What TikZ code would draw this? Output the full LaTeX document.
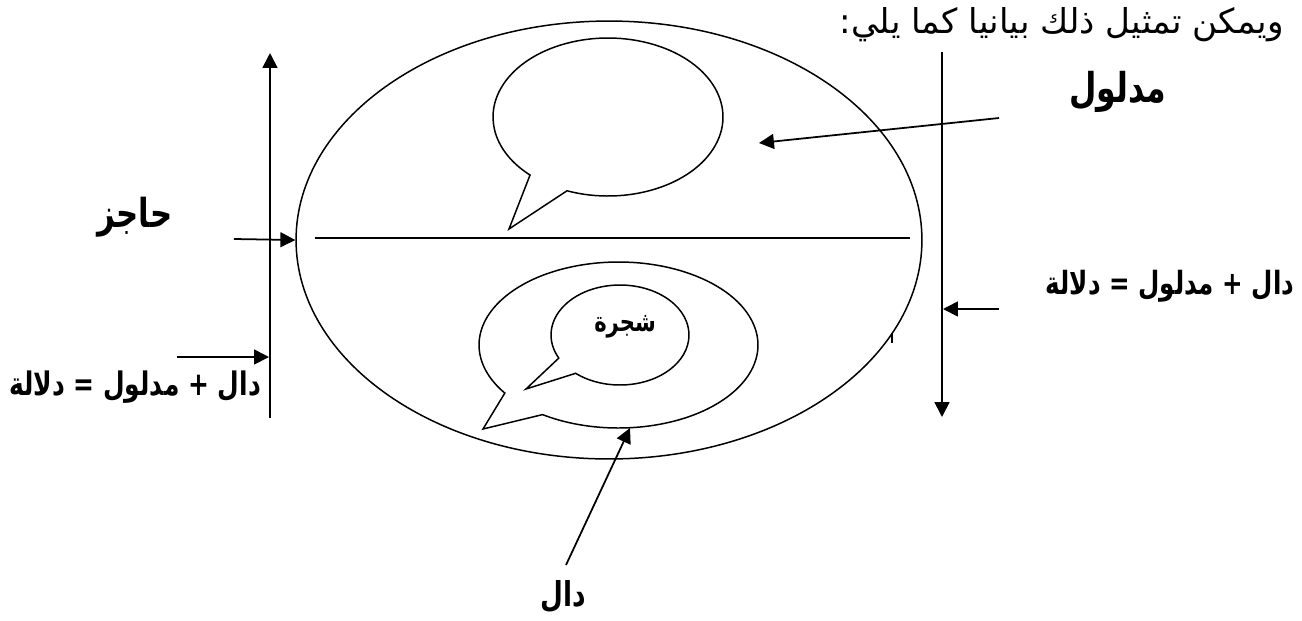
\documentclass[tikz,border=0pt]{standalone}
\usepackage{fontspec}
\usetikzlibrary{arrows.meta,shapes.geometric,calc}
\newfontfamily\arabicfont[Script=Arabic]{DejaVu Sans}
\TeXXeTstate=1
\newcommand{\tallar}[1]{\scalebox{1}[1.3]{\beginR #1\endR}}
\begin{document}
\begin{tikzpicture}[x=0.02cm,y=0.02cm,
  shapeline/.style={line width=0.85pt},
  conn/.style={line width=1pt,-{Triangle[length=8.5pt,width=8.5pt]}},
  lbl/.style={font=\arabicfont\bfseries, inner sep=0pt},
  lblreg/.style={font=\arabicfont, inner sep=0pt}]
\useasboundingbox (0,0) rectangle (1302,-620);
% big ellipse
\node[ellipse, draw, shapeline, minimum width=12.52cm, minimum height=8.76cm, inner sep=0pt] (big) at (609,-240) {};
% top bubble
\coordinate (tbc) at (608,-117);
\coordinate (tbtip) at (509,-229);
\draw[shapeline] ($(tbc)+(249.1:2.3cm and 1.58cm)$) arc[start angle=249.1, end angle=587.3, x radius=2.3cm, y radius=1.58cm] -- (tbtip) -- cycle;
% bottom outer bubble
\coordinate (obc) at (618.5,-345);
\coordinate (obtip) at (483,-429);
\draw[shapeline] ($(obc)+(237:2.79cm and 1.66cm)$) arc[start angle=237, end angle=575.4, x radius=2.79cm, y radius=1.66cm] -- (obtip) -- cycle;
% inner bubble
\coordinate (ibc) at (620,-335);
\coordinate (ibtip) at (526,-389);
\draw[shapeline] ($(ibc)+(230:1.38cm and 1.0cm)$) arc[start angle=230, end angle=567.5, x radius=1.38cm, y radius=1.0cm] -- (ibtip) -- cycle;
% dividing line
\coordinate (hl) at (315,-238);
\coordinate (hr) at (910,-238);
\draw[shapeline] (hl) -- (hr);
% small tick
\coordinate (tk1) at (892,-333);
\coordinate (tk2) at (892,-343);
\draw[line width=0.6pt] (tk1) -- (tk2);
% left vertical
\coordinate (lvb) at (270,-418);
\coordinate (lvt) at (270,-53);
\draw[conn] (lvb) -- (lvt);
\coordinate (a1s) at (234,-239);
\draw[conn] (a1s) -- (big.west);
\coordinate (a2s) at (177,-357);
\coordinate (a2e) at (269,-357);
\draw[conn] (a2s) -- (a2e);
% right vertical
\coordinate (rvt) at (942,-52);
\coordinate (rvb) at (942,-417);
\draw[conn] (rvt) -- (rvb);
\coordinate (a3s) at (999,-309);
\coordinate (a3e) at (943,-309);
\draw[conn] (a3s) -- (a3e);
\coordinate (a4s) at (999,-118);
\coordinate (a4e) at (759,-143);
\draw[conn] (a4s) -- (a4e);
\coordinate (a5s) at (566,-565);
\coordinate (a5e) at (630,-428);
\draw[conn] (a5s) -- (a5e);
% labels
\node[lblreg, font=\arabicfont\fontsize{19.5pt}{22pt}\selectfont, anchor=east] (title) at (1284,-25) {\beginR ويمكن تمثيل ذلك بيانيا كما يلي:\endR};
\node[lbl, font=\arabicfont\bfseries\fontsize{18pt}{21pt}\selectfont] (madlul) at (1118,-92) {\tallar{مدلول}};
\node[lbl, font=\arabicfont\bfseries\fontsize{17.5pt}{21pt}\selectfont] (hajiz) at (135,-217) {\tallar{حاجز}};
\node[lbl, font=\arabicfont\bfseries\fontsize{14.2pt}{17pt}\selectfont] (eqL) at (135,-387) {\tallar{دال + مدلول = دلالة}};
\node[lbl, font=\arabicfont\bfseries\fontsize{14pt}{17pt}\selectfont] (eqR) at (1170,-286) {\tallar{دال + مدلول = دلالة}};
\node[lbl, font=\arabicfont\bfseries\fontsize{12pt}{14pt}\selectfont] (shajara) at (625,-327) {\tallar{شجرة}};
\node[lbl, font=\arabicfont\bfseries\fontsize{15pt}{18pt}\selectfont] (dal) at (563,-597) {\tallar{دال}};
\end{tikzpicture}
\end{document}
